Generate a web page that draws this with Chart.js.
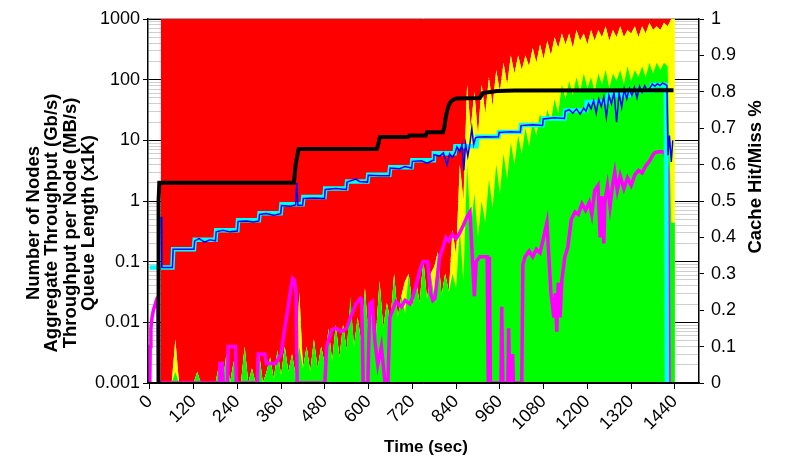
<!DOCTYPE html>
<html>
<head>
<meta charset="utf-8">
<title>Cache hit/miss, throughput and queue length over time</title>
<script src="https://cdn.jsdelivr.net/npm/chart.js@4.4.1/dist/chart.umd.min.js"></script>
<style>
  html, body { margin: 0; padding: 0; background: #fff; }
  #chart { display: block; }
</style>
</head>
<body>
<canvas id="chart" width="787" height="459"></canvas>
<script>
// ---- axis ticks / labels -------------------------------------------------
const xTickValues = [0, 120, 240, 360, 480, 600, 720, 840, 960, 1080, 1200, 1320, 1440];
const yTickValues = [0.001, 0.01, 0.1, 1, 10, 100, 1000];
const yTickLabels = ["0.001", "0.01", "0.1", "1", "10", "100", "1000"];
const rightTickValues = [0, 0.1, 0.2, 0.3, 0.4, 0.5, 0.6, 0.7, 0.8, 0.9, 1];
const rightTickLabels = ["0", "0.1", "0.2", "0.3", "0.4", "0.5", "0.6", "0.7", "0.8", "0.9", "1"];

const leftTitle = ["Number of Nodes", "Aggregate Throughput (Gb/s)", "Throughput per Node (MB/s)", "Queue Length (x1K)"];
const rightTitle = "Cache Hit/Miss %";
const xTitle = "Time (sec)";

// ---- cache hit / miss areas (right axis, fraction) ------------------------
const areaTime = [
  30, 40, 50, 60, 70, 80, 90, 100, 110, 120,
  130, 140, 150, 160, 170, 180, 190, 200, 210, 220,
  230, 240, 250, 260, 270, 280, 290, 300, 310, 320,
  330, 340, 350, 360, 370, 380, 390, 400, 410, 420,
  430, 440, 450, 460, 470, 480, 490, 500, 510, 520,
  530, 540, 550, 560, 570, 580, 590, 600, 610, 620,
  630, 640, 650, 660, 670, 680, 690, 700, 710, 720,
  730, 740, 750, 760, 770, 780, 790, 800, 810, 820,
  830, 840, 850, 860, 870, 880, 890, 900, 910, 920,
  930, 940, 950, 960, 970, 980, 990, 1000, 1010, 1020,
  1030, 1040, 1050, 1060, 1070, 1080, 1090, 1100, 1110, 1120,
  1130, 1140, 1150, 1160, 1170, 1180, 1190, 1200, 1210, 1220,
  1230, 1240, 1250, 1260, 1270, 1280, 1290, 1300, 1310, 1320,
  1330, 1340, 1350, 1360, 1370, 1380, 1390, 1400, 1410, 1420,
  1430, 1440
];
// cache hit (green band, from the bottom)
const cacheHit = [
  0, 0, 0, 0, 0.03, 0, 0, 0, 0, 0,
  0.03, 0, 0, 0, 0, 0, 0.05, 0, 0.08, 0,
  0.06, 0, 0, 0.1, 0, 0.04, 0, 0.08, 0, 0.03,
  0.07, 0.01, 0.09, 0.02, 0.1, 0.03, 0.08, 0.02, 0.1, 0.04,
  0.1, 0.03, 0.12, 0.04, 0.1, 0.05, 0.15, 0.06, 0.16, 0.07,
  0.16, 0.09, 0.24, 0.1, 0.18, 0.11, 0.26, 0.12, 0.2, 0.13,
  0.28, 0.15, 0.22, 0.17, 0.3, 0.18, 0.24, 0.19, 0.3, 0.21,
  0.28, 0.22, 0.34, 0.23, 0.3, 0.24, 0.36, 0.24, 0.3, 0.25,
  0.3, 0.26, 0.42, 0.28, 0.6, 0.42, 0.52, 0.4, 0.5, 0.44,
  0.56, 0.48, 0.6, 0.52, 0.63, 0.56, 0.66, 0.6, 0.68, 0.63,
  0.7, 0.65, 0.72, 0.68, 0.74, 0.7, 0.75, 0.72, 0.78, 0.74,
  0.82, 0.78, 0.83, 0.79, 0.84, 0.8, 0.85, 0.81, 0.84, 0.8,
  0.85, 0.82, 0.86, 0.81, 0.85, 0.83, 0.86, 0.82, 0.87, 0.83,
  0.86, 0.84, 0.87, 0.84, 0.88, 0.85, 0.88, 0.86, 0.88, 0.87,
  0.44, 0.44
];
// hit + partial hit (top of the yellow band); miss (red) fills above it
const cacheHitPartial = [
  0, 0, 0, 0, 0.12, 0, 0, 0, 0, 0,
  0.03, 0, 0, 0, 0, 0, 0.05, 0, 0.08, 0,
  0.06, 0, 0, 0.1, 0, 0.04, 0, 0.08, 0, 0.03,
  0.07, 0.01, 0.09, 0.02, 0.1, 0.03, 0.08, 0.02, 0.25, 0.04,
  0.1, 0.03, 0.12, 0.04, 0.1, 0.05, 0.15, 0.06, 0.16, 0.07,
  0.16, 0.09, 0.22, 0.1, 0.18, 0.11, 0.26, 0.12, 0.2, 0.13,
  0.28, 0.15, 0.22, 0.17, 0.3, 0.18, 0.24, 0.28, 0.3, 0.21,
  0.28, 0.22, 0.34, 0.23, 0.3, 0.32, 0.36, 0.24, 0.3, 0.25,
  0.42, 0.35, 0.6, 0.5, 0.82, 0.7, 0.8, 0.68, 0.82, 0.74,
  0.84, 0.76, 0.86, 0.8, 0.88, 0.82, 0.9, 0.85, 0.9, 0.86,
  0.9, 0.87, 0.92, 0.88, 0.93, 0.89, 0.94, 0.9, 0.95, 0.92,
  0.96, 0.93, 0.96, 0.92, 0.97, 0.94, 0.96, 0.93, 0.97, 0.94,
  0.97, 0.95, 0.98, 0.94, 0.97, 0.95, 0.98, 0.95, 0.97, 0.96,
  0.98, 0.95, 0.98, 0.96, 0.99, 0.97, 0.98, 0.97, 0.99, 0.98,
  1, 1
];

// ---- number of nodes (black) --------------------------------------------
const nodeTime = [23, 24, 26, 395, 400, 408, 623, 627, 631, 708, 712, 757, 760,
  804, 808, 812, 816, 820, 826, 833, 840, 905, 913, 952, 1000, 1436];
const nodeCount = [0.001, 1, 2, 2, 4, 7.2, 7.2, 9, 11.3, 11.3, 12, 12, 13.6,
  13.6, 17, 25, 32, 38, 44, 47, 49, 50, 60, 65, 66, 67];

// ---- throughput per node (cyan, stepped) ---------------------------------
const perNodeTime = [0, 62, 64, 121, 123, 180, 182, 240, 242, 299, 301, 359, 361,
  419, 421, 479, 481, 539, 541, 597, 599, 657, 659, 718, 720, 777, 779, 836, 838,
  896, 898, 956, 958, 1016, 1018, 1077, 1079, 1137, 1139, 1196, 1198, 1255, 1257,
  1317, 1319, 1375, 1377, 1415, 1418];
const perNodeTput = [0.08, 0.08, 0.16, 0.16, 0.23, 0.23, 0.33, 0.33, 0.48, 0.48, 0.63, 0.63, 0.88,
  0.88, 1.16, 1.16, 1.6, 1.6, 2.1, 2.1, 2.7, 2.7, 3.6, 3.6, 4.7, 4.7, 6.1, 6.1, 8.0,
  8.0, 11.5, 11.5, 13.7, 13.7, 17.9, 17.9, 23, 23, 31, 31, 43, 43, 56,
  56, 67, 67, 82, 82, 0.001];

// ---- aggregate throughput (blue) -----------------------------------------
const aggTime = [31, 33, 62, 64, 90, 121, 123, 135, 150, 165, 180, 182, 200, 220, 240, 242,
  265, 285, 299, 301, 320, 340, 359, 361, 385, 400, 403, 406, 419, 421, 450, 479, 481,
  510, 539, 541, 565, 575, 597, 599, 630, 657, 659, 685, 700, 718, 720, 745, 760, 777,
  779, 795, 805, 815, 822, 830, 838, 842, 850, 856, 861, 866, 872, 878, 883, 888, 893,
  898, 920, 935, 956, 958, 990, 1016, 1018, 1050, 1077, 1079, 1110, 1137, 1139, 1150,
  1160, 1170, 1180, 1190, 1196, 1203, 1210, 1217, 1224, 1231, 1238, 1245, 1252, 1259,
  1266, 1273, 1280, 1287, 1294, 1301, 1308, 1315, 1322, 1329, 1336, 1343, 1350, 1357,
  1364, 1371, 1378, 1385, 1392, 1399, 1406, 1413, 1418, 1421, 1425, 1430, 1434];
const aggTput = [0.55, 0.08, 0.08, 0.16, 0.16, 0.16, 0.22, 0.24, 0.21, 0.23, 0.22, 0.31, 0.33, 0.31, 0.32, 0.46,
  0.47, 0.45, 0.47, 0.6, 0.62, 0.58, 0.62, 0.84, 0.82, 0.86, 2.0, 0.85, 0.86, 1.1, 1.12, 1.1, 1.55,
  1.6, 1.55, 2.05, 2.3, 2.1, 2.05, 2.65, 2.6, 2.6, 3.5, 3.4, 3.7, 3.5, 4.5, 4.6, 4.2, 4.7,
  5.8, 5.5, 6.2, 3.9, 6.0, 5.2, 6.4, 7.8, 6.5, 8.5, 3.2, 8.8, 5.5, 9, 15.8, 8.5, 11,
  11.2, 11.5, 11.3, 11.4, 13.5, 13.8, 13.6, 17.5, 18, 17.6, 22.5, 23.5, 23, 30, 32,
  28, 33, 27, 34, 30, 40, 33, 45, 28, 48, 36, 52, 24, 55,
  40, 62, 20, 60, 35, 70, 48, 72, 55, 75, 50, 78, 62, 80,
  66, 72, 85, 78, 86, 80, 88, 84, 80, 5.7, 12, 4.4, 10];

// ---- queue length (magenta) ----------------------------------------------
const queueTime = [0, 1, 3, 6, 10, 15, 20, 22, 24, 190,
  192, 199, 201, 213, 215, 235, 237, 295, 297, 315,
  320, 345, 360, 370, 375, 382, 388, 392, 396, 401,
  404, 480, 485, 499, 510, 525, 540, 550, 565, 578,
  581, 585, 598, 603, 610, 617, 625, 635, 645, 653,
  658, 666, 675, 690, 700, 713, 720, 730, 740, 749,
  755, 762, 770, 776, 782, 795, 804, 812, 820, 830,
  840, 850, 860, 870, 878, 885, 890, 895, 905, 915,
  925, 928, 931, 934, 963, 965, 968, 982, 984, 987,
  993, 995, 997, 1020, 1023, 1029, 1040, 1050, 1060, 1070,
  1080, 1089, 1095, 1100, 1108, 1112, 1116, 1120, 1125, 1130,
  1138, 1146, 1156, 1166, 1175, 1185, 1195, 1205, 1212, 1220,
  1229, 1235, 1240, 1245, 1248, 1255, 1262, 1270, 1275, 1282,
  1290, 1300, 1310, 1320, 1330, 1340, 1350, 1360, 1370, 1380,
  1385, 1395, 1405, 1413, 1420, 1424];
const queueLen = [0.001, 0.004, 0.008, 0.012, 0.016, 0.02, 0.025, 0.027, 0.001, 0.001,
  0.0021, 0.0021, 0.001, 0.001, 0.004, 0.004, 0.001, 0.001, 0.003, 0.003,
  0.0021, 0.0021, 0.003, 0.008, 0.012, 0.023, 0.04, 0.053, 0.05, 0.03,
  0.001, 0.001, 0.004, 0.0075, 0.008, 0.007, 0.008, 0.012, 0.02, 0.025,
  0.024, 0.001, 0.001, 0.02, 0.022, 0.005, 0.002, 0.004, 0.001, 0.001,
  0.012, 0.016, 0.022, 0.018, 0.023, 0.02, 0.025, 0.04, 0.07, 0.1,
  0.1, 0.1, 0.03, 0.023, 0.025, 0.12, 0.17, 0.25, 0.22, 0.28,
  0.24, 0.3, 0.4, 0.55, 0.66, 0.1, 0.027, 0.1, 0.12, 0.12,
  0.12, 0.001, 0.12, 0.001, 0.001, 0.018, 0.001, 0.001, 0.008, 0.001,
  0.001, 0.003, 0.001, 0.001, 0.09, 0.12, 0.15, 0.12, 0.16, 0.14,
  0.25, 0.44, 0.1, 0.03, 0.012, 0.03, 0.007, 0.045, 0.012, 0.05,
  0.12, 0.17, 0.5, 0.66, 0.6, 0.9, 0.7, 0.95, 0.6, 1.5,
  1.8, 0.25, 1.2, 0.2, 1.0, 1.8, 0.8, 2.0, 3.0, 1.5,
  2.6, 1.6, 2.4, 1.8, 2.7, 3.2, 2.9, 3.8, 4.5, 5.8,
  6.3, 6.5, 6.5, 6.2, 3, 0.001];

// --------------------------------------------------------------------------
const pts = (xs, ys) => xs.map((x, i) => ({ x, y: ys[i] }));

// minor log gridlines 1..9 x 10^n between 0.001 and 1000
const logGrid = [];
for (let e = -3; e < 3; e++) {
  for (let k = 1; k < 10; k++) logGrid.push(Number((k * Math.pow(10, e)).toPrecision(3)));
}
logGrid.push(1000);

function decadeIndex(v) {
  return yTickValues.findIndex((d) => Math.abs(Math.log10(v) - Math.log10(d)) < 1e-6);
}

const FONT = '"Liberation Sans", Arial, sans-serif';
Chart.defaults.font.family = FONT;
Chart.defaults.font.size = 18;
Chart.defaults.color = "#000";

const titlesPlugin = {
  id: "titles",
  afterDatasetsDraw(chart) {
    const { ctx, chartArea } = chart;
    ctx.save();
    ctx.strokeStyle = "#a6a6a6";
    ctx.lineWidth = 1;
    ctx.beginPath();
    ctx.moveTo(chartArea.left, chartArea.top - 0.5);
    ctx.lineTo(chartArea.right, chartArea.top - 0.5);
    ctx.stroke();
    ctx.restore();
  },
  afterDraw(chart) {
    const ctx = chart.ctx;
    ctx.save();
    ctx.fillStyle = "#000";
    ctx.font = "bold 18.5px " + FONT;
    ctx.textAlign = "center";
    ctx.textBaseline = "alphabetic";
    leftTitle.forEach((line, i) => {
      ctx.save();
      ctx.translate(38.5 + i * 18.5, 223);
      ctx.rotate(-Math.PI / 2);
      ctx.fillText(line, 0, 0);
      ctx.restore();
    });
    ctx.save();
    ctx.translate(761, 177);
    ctx.rotate(-Math.PI / 2);
    ctx.fillText(rightTitle, 0, 0);
    ctx.restore();
    ctx.font = "bold 17px " + FONT;
    ctx.textBaseline = "middle";
    ctx.fillText(xTitle, 426, 447);
    ctx.restore();
  },
};

const lineBase = { pointRadius: 0, tension: 0, fill: false, yAxisID: "y" };
const areaBase = { pointRadius: 0, tension: 0, yAxisID: "y2", borderWidth: 0, borderColor: "rgba(0,0,0,0)" };

new Chart(document.getElementById("chart"), {
  type: "line",
  data: {
    datasets: [
      { ...lineBase, label: "Number of Nodes", data: pts(nodeTime, nodeCount), borderColor: "#000", borderWidth: 4, order: 0 },
      { ...lineBase, label: "Aggregate Throughput (Gb/s)", data: pts(aggTime, aggTput), borderColor: "#0000FF", borderWidth: 1.5, order: 1 },
      { ...lineBase, label: "Throughput per Node (MB/s)", data: pts(perNodeTime, perNodeTput), borderColor: "#00FFFF", borderWidth: 4.5, order: 2 },
      { ...lineBase, label: "Queue Length (x1K)", data: pts(queueTime, queueLen), borderColor: "#FF00FF", borderWidth: 3.5, order: 3 },
      { ...areaBase, label: "Cache Hit", data: pts(areaTime, cacheHit), fill: "origin", backgroundColor: "#00FF00", order: 4 },
      { ...areaBase, label: "Cache Partial Hit", data: pts(areaTime, cacheHitPartial), fill: "origin", backgroundColor: "#FFFF00", order: 5 },
      { ...areaBase, label: "Cache Miss", data: pts(areaTime, cacheHitPartial), fill: "end", backgroundColor: "#FF0000", order: 6 },
    ],
  },
  options: {
    responsive: false,
    animation: false,
    devicePixelRatio: 1,
    layout: { padding: { top: 19, left: 0, right: 0, bottom: 0 } },
    plugins: { legend: { display: false }, tooltip: { enabled: false } },
    scales: {
      x: {
        type: "linear",
        min: -5,
        max: 1506,
        afterBuildTicks: (s) => { s.ticks = xTickValues.map((v) => ({ value: v })); },
        afterFit: (s) => { s.height = 76; },
        ticks: { autoSkip: false, minRotation: 45, maxRotation: 45, padding: 2, callback: (v) => String(v) },
        grid: { drawOnChartArea: false, drawTicks: true, tickLength: 6, color: "#000" },
        border: { color: "#000", width: 1.5, z: 1 },
      },
      y: {
        type: "logarithmic",
        position: "left",
        min: 0.001,
        max: 1000,
        afterBuildTicks: (s) => { s.ticks = logGrid.map((v) => ({ value: v })); },
        afterFit: (s) => { s.width = 148; },
        ticks: {
          autoSkip: false,
          padding: 3,
          callback: (v) => { const i = decadeIndex(v); return i >= 0 ? yTickLabels[i] : ""; },
        },
        grid: {
          lineWidth: 1,
          color: (c) => (c.tick && decadeIndex(c.tick.value) >= 0 ? "#000" : "#cfcfcf"),
          tickColor: (c) => (c.tick && decadeIndex(c.tick.value) >= 0 ? "#000" : "rgba(0,0,0,0)"),
          tickLength: 5,
        },
        border: { color: "#000", width: 1.5, z: 1 },
      },
      y2: {
        type: "linear",
        position: "right",
        min: 0,
        max: 1,
        afterBuildTicks: (s) => { s.ticks = rightTickValues.map((v) => ({ value: v })); },
        afterFit: (s) => { s.width = 88; },
        ticks: { autoSkip: false, padding: 7, callback: (v, i) => rightTickLabels[i] },
        grid: { drawOnChartArea: false, tickLength: 5, color: "#000" },
        border: { color: "#000", width: 1.5, z: 1 },
      },
    },
  },
  plugins: [titlesPlugin],
});
</script>
</body>
</html>
